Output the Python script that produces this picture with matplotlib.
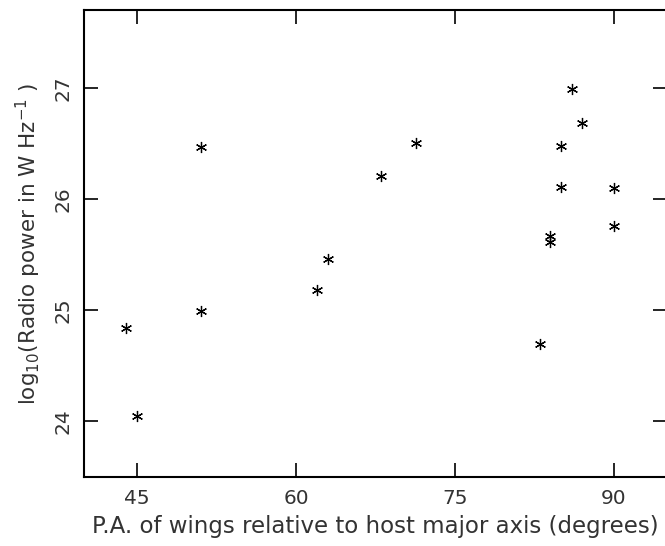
import matplotlib
matplotlib.use("Agg")
import matplotlib.pyplot as plt

pa_deg = [44.0, 45.0, 51.0, 51.0, 62.0, 63.0, 68.0, 71.3, 83.0, 84.0, 84.0,
          85.0, 85.0, 86.0, 87.0, 90.0, 90.0]
log_power = [24.84, 24.05, 26.47, 24.99, 25.18, 25.46, 26.21, 26.50, 24.70,
             25.67, 25.61, 26.48, 26.11, 26.99, 26.68, 26.10, 25.76]

x_ticks = [45, 60, 75, 90]
y_ticks = [24, 25, 26, 27]

plt.rcParams['font.family'] = ['DejaVu Sans']
plt.rcParams['mathtext.fontset'] = 'dejavusans'

W, H = 665, 546
fig = plt.figure(figsize=(W / 100, H / 100), dpi=100)
left, right, top, bottom = 84, 667, 10, 477
ax = fig.add_axes([left / W, 1 - bottom / H, (right - left) / W, (bottom - top) / H])

ax.plot(pa_deg, log_power, linestyle='none', marker=(6, 2, 0), markersize=8,
        markeredgewidth=0.9, color='black')

ax.set_xlim(40, 95)
ax.set_ylim(23.5, 27.7)
ax.set_xticks(x_ticks)
ax.set_yticks(y_ticks)
ax.set_xticklabels([str(v) for v in x_ticks])
ax.set_yticklabels([str(v) for v in y_ticks], rotation=90, va='center')
ax.tick_params(direction='in', length=10, width=1.2, top=True, right=True,
               labelsize=14.5, pad=9, colors='black', labelcolor='#333333')
ax.tick_params(axis='y', pad=8)
for s in ax.spines.values():
    s.set_linewidth(1.5)

ax.set_xlabel('P.A. of wings relative to host major axis (degrees)', fontsize=16.5,
              color='#333333', labelpad=5)
ax.set_ylabel(r'log$_{10}$(Radio power in W Hz$^{-1}$ )', fontsize=15.5,
              color='#333333', labelpad=8)

fig.savefig('out.png', dpi=100)
